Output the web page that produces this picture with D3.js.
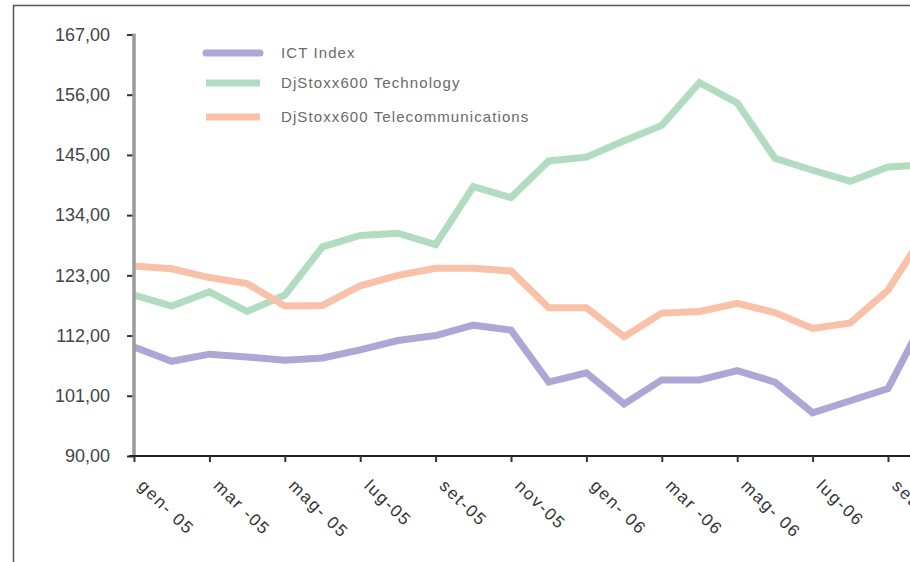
<!DOCTYPE html>
<html lang="it">
<head>
    <meta charset="UTF-8">
    <title>ICT Index vs DjStoxx600</title>
    <script src="https://cdn.jsdelivr.net/npm/d3@7"></script>
    <style>
        body { margin: 0; background: #fff; }
        svg text { font-family: "Liberation Sans", Arial, sans-serif; fill: #444; }
        .legend text { font-size: 15px; letter-spacing: 1.1px; fill: #6a6a6a; }
        .xlab { font-size: 17px; letter-spacing: 1.8px; fill: #333; }
        .ylab { font-size: 18px; fill: #444; }
    </style>
</head>
<body>
<div id="chart"></div>
<script>
    // months gen-05 .. ott-06 (last point falls outside the frame)
    var months = ['gen-05', 'feb-05', 'mar-05', 'apr-05', 'mag-05', 'giu-05', 'lug-05', 'ago-05',
        'set-05', 'ott-05', 'nov-05', 'dic-05', 'gen-06', 'feb-06', 'mar-06', 'apr-06',
        'mag-06', 'giu-06', 'lug-06', 'ago-06', 'set-06', 'ott-06'];
    var tickLabels = ['gen- 05', 'mar -05', 'mag- 05', 'lug-05', 'set-05', 'nov-05',
        'gen- 06', 'mar -06', 'mag- 06', 'lug-06', 'set-06'];
    var yTicks = [90, 101, 112, 123, 134, 145, 156, 167];

    var ictIndex = [109.9, 107.3, 108.6, 108.1, 107.5, 107.9, 109.4, 111.1, 112.0, 113.9, 113.0,
        103.5, 105.2, 99.5, 103.9, 103.9, 105.6, 103.5, 97.9, 100.1, 102.3, 115.5];
    var stoxxTech = [119.4, 117.4, 120.0, 116.4, 119.4, 128.2, 130.3, 130.7, 128.6, 139.2, 137.2,
        143.9, 144.6, 147.6, 150.4, 158.2, 154.5, 144.4, 142.2, 140.2, 142.8, 143.2];
    var stoxxTelecom = [124.7, 124.2, 122.6, 121.5, 117.4, 117.5, 121.1, 123.0, 124.3, 124.3, 123.8,
        117.1, 117.1, 111.8, 116.1, 116.4, 117.9, 116.2, 113.3, 114.3, 120.3, 131.0];

    var seriesNames = ['ICT Index', 'DjStoxx600 Technology', 'DjStoxx600 Telecommunications'];
    var seriesColors = ['#aca7d5', '#b2dcc0', '#f9c1a8'];
    var seriesData = [ictIndex, stoxxTech, stoxxTelecom];

    var W = 910, H = 562;
    var svg = d3.select('#chart').append('svg')
        .attr('width', W)
        .attr('height', H);

    // frame of the scanned figure
    svg.append('path')
        .attr('d', 'M13.5,' + H + 'V5.5H' + W)
        .attr('fill', 'none')
        .attr('stroke', '#555')
        .attr('stroke-width', 1.5);

    var x = d3.scaleLinear().domain([0, 20]).range([134, 888]);
    var y = d3.scaleLinear().domain([90, 167]).range([456, 34.5]);

    // lines
    var line = d3.line()
        .x(function (d, i) { return x(i); })
        .y(function (d) { return y(d); });

    seriesData.forEach(function (s, k) {
        svg.append('path')
            .datum(s)
            .attr('d', line)
            .attr('fill', 'none')
            .attr('stroke', seriesColors[k])
            .attr('stroke-width', 7)
            .attr('stroke-linejoin', 'miter');
    });

    // y axis
    var yAxis = svg.append('g').attr('transform', 'translate(' + x(0) + ',0)')
        .call(d3.axisLeft(y).tickValues(yTicks).tickSize(7).tickPadding(17)
            .tickFormat(function (d) { return d3.format('.2f')(d).replace('.', ','); }));
    yAxis.select('.domain').remove();
    yAxis.selectAll('.tick line').attr('stroke', '#333').attr('stroke-width', 2);
    yAxis.selectAll('text').attr('class', 'ylab');
    svg.append('line')
        .attr('x1', x(0)).attr('x2', x(0))
        .attr('y1', y(167) - 1).attr('y2', y(90))
        .attr('stroke', '#9a9a9e')
        .attr('stroke-width', 3.5);

    // x axis
    var tickIdx = d3.range(0, 22, 2);
    var xAxis = svg.append('g').attr('transform', 'translate(0,' + y(90) + ')')
        .call(d3.axisBottom(x).tickValues(tickIdx).tickSize(6).tickFormat(''));
    xAxis.select('.domain')
        .attr('d', 'M' + (x(0) - 5) + ',0H' + W)
        .attr('stroke', '#222').attr('stroke-width', 2);
    xAxis.selectAll('.tick line').attr('stroke', '#333').attr('stroke-width', 2);

    svg.append('g').selectAll('text')
        .data(tickIdx)
        .enter()
        .append('text')
        .attr('class', 'xlab')
        .attr('transform', function (d) {
            return 'translate(' + (x(d) + 3) + ',' + 487 + ') rotate(44)';
        })
        .text(function (d, i) { return tickLabels[i]; });

    // legend
    var legend = svg.append('g').attr('class', 'legend');
    var legY = [53, 83, 117];
    seriesNames.forEach(function (n, k) {
        legend.append('line')
            .attr('x1', 206).attr('x2', 260)
            .attr('y1', legY[k]).attr('y2', legY[k])
            .attr('stroke', seriesColors[k])
            .attr('stroke-width', 7)
            .attr('stroke-linecap', k === 0 ? 'round' : 'butt');
        legend.append('text')
            .attr('x', 281)
            .attr('y', legY[k] + 5)
            .text(n);
    });
</script>
</body>
</html>
